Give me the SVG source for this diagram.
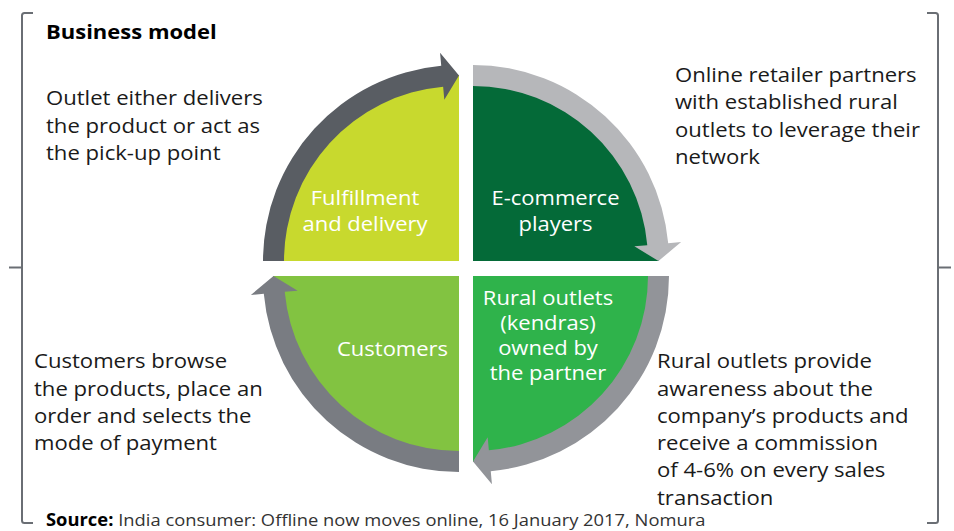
<svg xmlns="http://www.w3.org/2000/svg" xmlns:xlink="http://www.w3.org/1999/xlink" width="954" height="531" viewBox="0 0 954 531">
  <style>
    .lbl { font-family: "Open Sans", "Noto Sans", "Liberation Sans", sans-serif; font-size: 20px; fill: #ffffff; text-anchor: middle; }
    .desc { font-family: "Open Sans", "Noto Sans", "Liberation Sans", sans-serif; font-size: 20px; fill: #1a1a1a; }
    .title { font-family: "Open Sans", "Noto Sans", "Liberation Sans", sans-serif; font-size: 20px; font-weight: bold; fill: #000000; }
    .src { font-family: "Open Sans", "Noto Sans", "Liberation Sans", sans-serif; font-size: 17px; fill: #333333; }
    .brk { fill: none; stroke: #6a6e74; stroke-width: 2; }
  </style>
  <defs>
    <path id="quad" d="M0,0 L-186,0 A186,186 0 0 1 0,-186 Z"/>
    <path id="arr" d="M-196,0 A196,196 0 0 1 -17.76,-195.2 L-18.94,-208.14 L0,-185.5 L-14.68,-161.34 L-15.86,-174.28 A175,175 0 0 0 -175,0 Z"/>
  </defs>
  <rect width="954" height="531" fill="#ffffff"/>

  <g id="bracket">
    <path class="brk" d="M33,13 L24.5,13 Q22,13 22,15.5 L22,520.5 Q22,523 24.5,523 L33,523"/>
    <path class="brk" d="M9,267.5 L22,267.5"/>
    <path class="brk" d="M927,13 L935.5,13 Q938,13 938,15.5 L938,520.5 Q938,523 935.5,523 L927,523"/>
    <path class="brk" d="M938,267.5 L951,267.5"/>
  </g>

  <g transform="translate(46,0) scale(1.1,1)">
    <text class="title" x="0" y="39.5">Business model</text>
  </g>

  <g id="fulfillment">
    <use xlink:href="#quad" transform="translate(459,261)" fill="#c8d92e"/>
    <g transform="translate(365,0) scale(1.1,1)">
      <text class="lbl" x="0" y="205">Fulfillment</text>
      <text class="lbl" x="0" y="231">and delivery</text>
    </g>
  </g>
  <g id="ecommerce">
    <use xlink:href="#quad" transform="translate(473,261) rotate(90)" fill="#046a38"/>
    <g transform="translate(555.5,0) scale(1.1,1)">
      <text class="lbl" x="0" y="205">E-commerce</text>
      <text class="lbl" x="0" y="231">players</text>
    </g>
  </g>
  <g id="rural">
    <use xlink:href="#quad" transform="translate(473,276) rotate(180)" fill="#2fb34b"/>
    <g transform="translate(548,0) scale(1.1,1)">
      <text class="lbl" x="0" y="305">Rural outlets</text>
      <text class="lbl" x="0" y="330.5">(kendras)</text>
      <text class="lbl" x="0" y="355.5">owned by</text>
      <text class="lbl" x="0" y="380.5">the partner</text>
    </g>
  </g>
  <g id="customers">
    <use xlink:href="#quad" transform="translate(459,276) rotate(270)" fill="#82c341"/>
    <g transform="translate(392.5,0) scale(1.1,1)">
      <text class="lbl" x="0" y="356">Customers</text>
    </g>
  </g>

  <g id="connectors">
    <use xlink:href="#arr" transform="translate(459,261)" fill="#595d63"/>
    <use xlink:href="#arr" transform="translate(473,261) rotate(90)" fill="#b6b7ba"/>
    <use xlink:href="#arr" transform="translate(473,276) rotate(180)" fill="#929499"/>
    <use xlink:href="#arr" transform="translate(459,276) rotate(270)" fill="#797c82"/>
  </g>

  <g id="desc-fulfillment" transform="translate(46,0) scale(1.105,1)">
    <text class="desc" x="0" y="105.5">Outlet either delivers</text>
    <text class="desc" x="0" y="132.8">the product or act as</text>
    <text class="desc" x="0" y="160">the pick-up point</text>
  </g>
  <g id="desc-ecommerce" transform="translate(675,0) scale(1.105,1)">
    <text class="desc" x="0" y="82">Online retailer partners</text>
    <text class="desc" x="0" y="109.3">with established rural</text>
    <text class="desc" x="0" y="136.6">outlets to leverage their</text>
    <text class="desc" x="0" y="163.9">network</text>
  </g>
  <g id="desc-customers" transform="translate(34,0) scale(1.105,1)">
    <text class="desc" x="0" y="368.3">Customers browse</text>
    <text class="desc" x="0" y="395.6">the products, place an</text>
    <text class="desc" x="0" y="422.9">order and selects the</text>
    <text class="desc" x="0" y="450.2">mode of payment</text>
  </g>
  <g id="desc-rural" transform="translate(657,0) scale(1.105,1)">
    <text class="desc" x="0" y="368.3">Rural outlets provide</text>
    <text class="desc" x="0" y="395.6">awareness about the</text>
    <text class="desc" x="0" y="422.9">company’s products and</text>
    <text class="desc" x="0" y="450.2">receive a commission</text>
    <text class="desc" x="0" y="477.5">of 4-6% on every sales</text>
    <text class="desc" x="0" y="504.8">transaction</text>
  </g>

  <g transform="translate(46,0) scale(1.08,1)">
    <text class="src" x="0" y="526.5"><tspan font-weight="bold" fill="#000000">Source:</tspan> India consumer: Offline now moves online, 16 January 2017, Nomura</text>
  </g>
</svg>
